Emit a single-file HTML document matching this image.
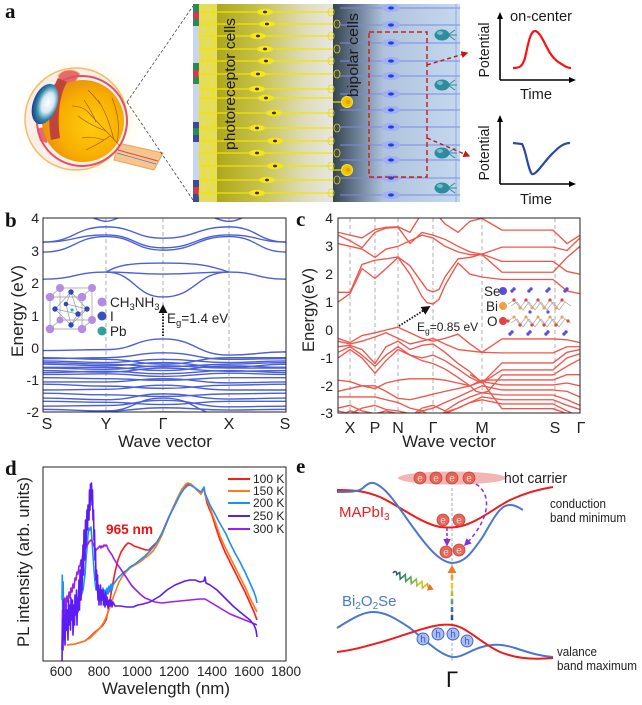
<!DOCTYPE html>
<html><head><meta charset="utf-8">
<style>
html,body{margin:0;padding:0;background:#fff;}
svg{display:block;}
text{font-family:"Liberation Sans",Arial,sans-serif;}
.lbl{font-family:"Liberation Serif","Times New Roman",serif;font-weight:bold;font-size:21px;fill:#111;}
.bb path{fill:none;stroke:#4b5fd9;stroke-width:1.4;vector-effect:non-scaling-stroke;}
.cc polyline{fill:none;stroke:#f0564c;stroke-width:1.35;stroke-linejoin:round;vector-effect:non-scaling-stroke;}
.pl polyline{fill:none;stroke-width:1.6;stroke-linejoin:round;}
</style></head>
<body>
<svg width="642" height="705" viewBox="0 0 642 705" xmlns="http://www.w3.org/2000/svg">
<defs>
<radialGradient id="glow" cx="0.5" cy="0.5" r="0.5"><stop offset="0.55" stop-color="#fff3cc"/><stop offset="1" stop-color="#ffffff" stop-opacity="0"/></radialGradient>
<radialGradient id="ball" cx="0.6" cy="0.55" r="0.6"><stop offset="0" stop-color="#ffcc10"/><stop offset="0.65" stop-color="#f8ae00"/><stop offset="1" stop-color="#e8900e"/></radialGradient>
<radialGradient id="lens" cx="0.6" cy="0.45" r="0.6"><stop offset="0" stop-color="#ffffff"/><stop offset="0.4" stop-color="#d8e8f4"/><stop offset="0.7" stop-color="#2e88a8"/><stop offset="1" stop-color="#1e3c8c"/></radialGradient>
<linearGradient id="yg" x1="0" x2="1"><stop offset="0" stop-color="#aea71c"/><stop offset="0.35" stop-color="#c6c048"/><stop offset="0.75" stop-color="#dedcb8"/><stop offset="1" stop-color="#e6e6e2"/></linearGradient>
<linearGradient id="bgr" x1="0" x2="1"><stop offset="0" stop-color="#36444f"/><stop offset="0.18" stop-color="#6a7c92"/><stop offset="0.4" stop-color="#afc4dc"/><stop offset="1" stop-color="#c4d8ee"/></linearGradient>
<linearGradient id="rb" gradientUnits="userSpaceOnUse" x1="452" y1="622" x2="452" y2="570"><stop offset="0" stop-color="#203c9c"/><stop offset="0.3" stop-color="#3a8a8a"/><stop offset="0.5" stop-color="#8ac040"/><stop offset="0.7" stop-color="#e8d020"/><stop offset="1" stop-color="#f07a20"/></linearGradient>
<linearGradient id="wv" gradientUnits="userSpaceOnUse" x1="0" y1="0" x2="46" y2="0"><stop offset="0" stop-color="#2a4a7a"/><stop offset="0.35" stop-color="#3aa060"/><stop offset="0.65" stop-color="#d0c820"/><stop offset="1" stop-color="#f07020"/></linearGradient>
<clipPath id="cb"><rect x="43" y="218" width="243" height="194"/></clipPath>
<clipPath id="cc"><rect x="338" y="218" width="242" height="195"/></clipPath>
<clipPath id="cd"><rect x="43" y="467" width="243" height="194"/></clipPath>
<marker id="ah" viewBox="0 0 10 10" refX="8" refY="5" markerWidth="5" markerHeight="5" orient="auto"><path d="M0,0 L10,5 L0,10 Z" fill="#111"/></marker>
<marker id="ahr" viewBox="0 0 10 10" refX="8" refY="5" markerWidth="5" markerHeight="5" orient="auto"><path d="M0,0 L10,5 L0,10 Z" fill="#c01818"/></marker>
<marker id="ahp" viewBox="0 0 10 10" refX="8" refY="5" markerWidth="5" markerHeight="5" orient="auto"><path d="M0,0 L10,5 L0,10 Z" fill="#8a2be2"/></marker>
</defs>

<!-- ================= PANEL A ================= -->
<text class="lbl" x="5" y="18">a</text>
<circle cx="80" cy="120" r="68" fill="url(#glow)"/>
<path d="M118,143 L163,153 L154,170 L114,160 Z" fill="#f6c48c" stroke="#e9a45a" stroke-width="1"/>
<path d="M118,150 L158,161" stroke="#c85050" stroke-width="1" fill="none"/>
<path d="M117,153 L156,164" stroke="#6070c0" stroke-width="0.7" fill="none"/>
<circle cx="76" cy="119" r="51" fill="#fbeee6" stroke="#f2bd6a" stroke-width="1.5"/>
<path d="M58,76 C62,69 74,68 80,74 L74,84 L62,84 Z" fill="#e86a6a" stroke="#f2bd6a" stroke-width="0.8"/>
<path d="M37,130 C40,126 46,127 49,131 L47,143 L40,141 Z" fill="#e86a6a"/>
<circle cx="82" cy="121" r="45" fill="none" stroke="#e0506a" stroke-width="2"/>
<circle cx="83" cy="121" r="41" fill="url(#ball)"/>
<path d="M58,78 C50,92 47,118 51,140 L60,138 C57,118 59,96 67,82 Z" fill="#c0443a"/>
<ellipse cx="45" cy="104" rx="12" ry="21" fill="url(#lens)" transform="rotate(20 45 104)"/>
<g stroke="#8b3a12" stroke-width="0.6" fill="none" opacity="0.85">
<path d="M120,146 C110,135 100,125 88,112"/>
<path d="M114,140 C110,125 106,112 98,100"/>
<path d="M106,131 C95,127 86,122 78,116"/>
<path d="M117,143 C120,128 118,112 112,98"/>
<path d="M96,122 C92,112 88,106 84,100"/>
<path d="M110,136 C102,142 94,146 86,150"/>
<path d="M88,112 C84,108 78,106 72,106"/>
<path d="M100,104 C96,98 92,94 88,90"/>
<path d="M104,140 C96,138 90,136 82,138"/>
</g>
<line x1="127" y1="102" x2="193" y2="6" stroke="#444" stroke-width="0.8" stroke-dasharray="3,2"/>
<line x1="127" y1="102" x2="193" y2="200" stroke="#444" stroke-width="0.8" stroke-dasharray="3,2"/>

<!-- retina strip -->
<rect x="193" y="4" width="6" height="198" fill="#c8d4f0"/>
<rect x="193" y="4" width="6" height="8" fill="#2a8a5a"/><rect x="193" y="12" width="6" height="7" fill="#d03a50"/><rect x="193" y="19" width="6" height="7" fill="#2a8a5a"/>
<rect x="193" y="63" width="6" height="7" fill="#2a8a5a"/><rect x="193" y="70" width="6" height="7" fill="#d03a50"/><rect x="193" y="77" width="6" height="7" fill="#2a8a5a"/>
<rect x="193" y="122" width="6" height="6" fill="#3a4aa0"/><rect x="193" y="128" width="6" height="7" fill="#2a8a5a"/><rect x="193" y="135" width="6" height="7" fill="#3a4aa0"/>
<rect x="193" y="180" width="6" height="7" fill="#3a4aa0"/><rect x="193" y="187" width="6" height="7" fill="#d03a50"/><rect x="193" y="194" width="6" height="8" fill="#3a4aa0"/>
<rect x="199" y="4" width="18" height="198" fill="#e4dc6a"/>
<g stroke="#f2e400" stroke-width="0.8" fill="none">
<path d="M201,4 Q205,14 201,24 T201,44 T201,64 T201,84 T201,104 T201,124 T201,144 T201,164 T201,184 T201,202"/>
<path d="M206,4 Q202,12 206,20 T206,36 T206,52 T206,68 T206,84 T206,100 T206,116 T206,132 T206,148 T206,164 T206,180 T206,196"/>
<path d="M211,4 Q215,11 211,18 T211,32 T211,46 T211,60 T211,74 T211,88 T211,102 T211,116 T211,130 T211,144 T211,158 T211,172 T211,186 T211,200"/>
<path d="M215,4 Q212,14 215,24 T215,44 T215,64 T215,84 T215,104 T215,124 T215,144 T215,164 T215,184 T215,202"/>
</g>
<rect x="217" y="4" width="116" height="198" fill="url(#yg)"/>
<rect x="333" y="4" width="127" height="198" fill="url(#bgr)"/>
<g stroke="#f2e400" stroke-width="1.3">
<line x1="199" y1="12" x2="333" y2="12"/><line x1="199" y1="24" x2="333" y2="24"/><line x1="199" y1="36" x2="333" y2="36"/><line x1="199" y1="49" x2="333" y2="49"/><line x1="199" y1="61" x2="333" y2="61"/><line x1="199" y1="74" x2="333" y2="74"/><line x1="199" y1="89" x2="333" y2="89"/><line x1="199" y1="98" x2="333" y2="98"/><line x1="199" y1="113" x2="333" y2="113"/><line x1="199" y1="128" x2="333" y2="128"/><line x1="199" y1="141" x2="333" y2="141"/><line x1="199" y1="153" x2="333" y2="153"/><line x1="199" y1="166" x2="333" y2="166"/><line x1="199" y1="180" x2="333" y2="180"/><line x1="199" y1="193" x2="333" y2="193"/>
</g>
<g fill="#f4e61a">
<ellipse cx="265" cy="12" rx="8" ry="3.2"/><ellipse cx="267" cy="24" rx="8" ry="3.2"/><ellipse cx="258" cy="36" rx="8" ry="3.2"/><ellipse cx="265" cy="49" rx="8" ry="3.2"/><ellipse cx="266" cy="61" rx="8" ry="3.2"/><ellipse cx="258" cy="74" rx="8" ry="3.2"/><ellipse cx="257" cy="89" rx="8" ry="3.2"/><ellipse cx="266" cy="98" rx="8" ry="3.2"/><ellipse cx="274" cy="113" rx="8" ry="3.2"/><ellipse cx="257" cy="128" rx="8" ry="3.2"/><ellipse cx="275" cy="141" rx="8" ry="3.2"/><ellipse cx="257" cy="153" rx="8" ry="3.2"/><ellipse cx="275" cy="166" rx="8" ry="3.2"/><ellipse cx="267" cy="180" rx="8" ry="3.2"/><ellipse cx="257" cy="193" rx="8" ry="3.2"/>
</g>
<g fill="#3a3000">
<ellipse cx="265" cy="12" rx="2" ry="1.4"/><ellipse cx="267" cy="24" rx="2" ry="1.4"/><ellipse cx="258" cy="36" rx="2" ry="1.4"/><ellipse cx="265" cy="49" rx="2" ry="1.4"/><ellipse cx="266" cy="61" rx="2" ry="1.4"/><ellipse cx="258" cy="74" rx="2" ry="1.4"/><ellipse cx="257" cy="89" rx="2" ry="1.4"/><ellipse cx="266" cy="98" rx="2" ry="1.4"/><ellipse cx="274" cy="113" rx="2" ry="1.4"/><ellipse cx="257" cy="128" rx="2" ry="1.4"/><ellipse cx="275" cy="141" rx="2" ry="1.4"/><ellipse cx="257" cy="153" rx="2" ry="1.4"/><ellipse cx="275" cy="166" rx="2" ry="1.4"/><ellipse cx="267" cy="180" rx="2" ry="1.4"/><ellipse cx="257" cy="193" rx="2" ry="1.4"/>
</g>
<g stroke="#e8d800" stroke-width="0.8" fill="none">
<ellipse cx="331" cy="12" rx="3" ry="4"/><ellipse cx="331" cy="36" rx="3" ry="4"/><ellipse cx="331" cy="61" rx="3" ry="4"/><ellipse cx="331" cy="89" rx="3" ry="4"/><ellipse cx="331" cy="113" rx="3" ry="4"/><ellipse cx="331" cy="141" rx="3" ry="4"/><ellipse cx="331" cy="166" rx="3" ry="4"/><ellipse cx="331" cy="193" rx="3" ry="4"/>
<ellipse cx="337" cy="24" rx="3" ry="4"/><ellipse cx="337" cy="49" rx="3" ry="4"/><ellipse cx="337" cy="74" rx="3" ry="4"/><ellipse cx="337" cy="128" rx="3" ry="4"/><ellipse cx="337" cy="153" rx="3" ry="4"/><ellipse cx="337" cy="180" rx="3" ry="4"/>
</g>
<g stroke="#7c8ae6" stroke-width="1">
<line x1="340" y1="8" x2="460" y2="8"/><line x1="340" y1="25" x2="460" y2="25"/><line x1="340" y1="43" x2="460" y2="43"/><line x1="340" y1="61" x2="460" y2="61"/><line x1="340" y1="76" x2="460" y2="76"/><line x1="340" y1="94" x2="460" y2="94"/><line x1="340" y1="110" x2="460" y2="110"/><line x1="340" y1="127" x2="460" y2="127"/><line x1="340" y1="145" x2="460" y2="145"/><line x1="340" y1="160" x2="460" y2="160"/><line x1="340" y1="178" x2="460" y2="178"/><line x1="340" y1="195" x2="460" y2="195"/>
<line x1="456" y1="4" x2="456" y2="202" stroke="#8aa0e0" stroke-width="0.8"/>
</g>
<g fill="#9fb0f4">
<ellipse cx="391" cy="8" rx="9" ry="4"/><ellipse cx="391" cy="25" rx="9" ry="4"/><ellipse cx="391" cy="43" rx="9" ry="4"/><ellipse cx="391" cy="61" rx="9" ry="4"/><ellipse cx="391" cy="76" rx="9" ry="4"/><ellipse cx="391" cy="94" rx="9" ry="4"/><ellipse cx="391" cy="110" rx="9" ry="4"/><ellipse cx="391" cy="127" rx="9" ry="4"/><ellipse cx="391" cy="145" rx="9" ry="4"/><ellipse cx="391" cy="160" rx="9" ry="4"/><ellipse cx="391" cy="178" rx="9" ry="4"/><ellipse cx="391" cy="195" rx="9" ry="4"/>
</g>
<g fill="#1f3fe0">
<ellipse cx="391" cy="8" rx="3" ry="1.6"/><ellipse cx="391" cy="25" rx="3" ry="1.6"/><ellipse cx="391" cy="43" rx="3" ry="1.6"/><ellipse cx="391" cy="61" rx="3" ry="1.6"/><ellipse cx="391" cy="76" rx="3" ry="1.6"/><ellipse cx="391" cy="94" rx="3" ry="1.6"/><ellipse cx="391" cy="110" rx="3" ry="1.6"/><ellipse cx="391" cy="127" rx="3" ry="1.6"/><ellipse cx="391" cy="145" rx="3" ry="1.6"/><ellipse cx="391" cy="160" rx="3" ry="1.6"/><ellipse cx="391" cy="178" rx="3" ry="1.6"/><ellipse cx="391" cy="195" rx="3" ry="1.6"/>
</g>
<circle cx="347" cy="102" r="5.5" fill="#f2c400" stroke="#eeea30" stroke-width="1"/><circle cx="348" cy="102" r="2.2" fill="#f59a00"/>
<circle cx="347" cy="170" r="5.5" fill="#f2c400" stroke="#eeea30" stroke-width="1"/><circle cx="348" cy="170" r="2.2" fill="#f59a00"/>
<line x1="341" y1="102" x2="333" y2="102" stroke="#f2e400" stroke-width="1.2"/><line x1="341" y1="170" x2="333" y2="170" stroke="#f2e400" stroke-width="1.2"/>
<g stroke="#2e8c9c" stroke-width="1" fill="none">
<path d="M448,35 L455,30 M448,35 L455,40 M448,35 L457,35"/>
<path d="M448,85 L455,80 M448,85 L455,90 M448,85 L457,85"/>
<path d="M448,153 L455,148 M448,153 L455,158 M448,153 L457,153"/>
<path d="M448,188 L455,183 M448,188 L455,193 M448,188 L457,188"/>
</g>
<g fill="#2e8c9c">
<ellipse cx="442" cy="35" rx="7.5" ry="5.5"/><ellipse cx="442" cy="85" rx="7.5" ry="5.5"/><ellipse cx="442" cy="153" rx="7.5" ry="5.5"/><ellipse cx="442" cy="188" rx="7.5" ry="5.5"/>
</g>
<g fill="#70c0cc">
<ellipse cx="440" cy="33" rx="3" ry="2"/><ellipse cx="440" cy="83" rx="3" ry="2"/><ellipse cx="440" cy="151" rx="3" ry="2"/><ellipse cx="440" cy="186" rx="3" ry="2"/>
</g>
<rect x="369" y="32" width="58" height="145" fill="none" stroke="#d02020" stroke-width="1.5" stroke-dasharray="5,3"/>
<line x1="427" y1="65" x2="467" y2="53" stroke="#c01818" stroke-width="1.4" stroke-dasharray="4,3" marker-end="url(#ahr)"/>
<line x1="427" y1="138" x2="469" y2="156" stroke="#c01818" stroke-width="1.4" stroke-dasharray="4,3" marker-end="url(#ahr)"/>
<text x="235" y="84" font-size="15" fill="#1a1a1a" text-anchor="middle" transform="rotate(-90 235 84)" textLength="132" lengthAdjust="spacingAndGlyphs">photoreceptor cells</text>
<text x="358" y="55" font-size="15" fill="#1a1a1a" text-anchor="middle" transform="rotate(-90 358 55)" textLength="84" lengthAdjust="spacingAndGlyphs">bipolar cells</text>

<g stroke="#000" stroke-width="1.6" fill="none">
<path d="M500,80 L500,17 M500,80 L571,80"/>
<path d="M500,184 L500,120 M500,184 L571,184"/>
</g>
<g fill="#000">
<path d="M500,12 L497,19 L503,19 Z"/><path d="M576,80 L569,77 L569,83 Z"/>
<path d="M500,115 L497,122 L503,122 Z"/><path d="M576,184 L569,181 L569,187 Z"/>
</g>
<path d="M513,68 C518,68 522,68 525,58 C528,45 530,31 535,31 C540,31 545,45 550,53 C555,61 560,63 563,65 C566,67 568,68 571,68" fill="none" stroke="#ff1010" stroke-width="2.2"/>
<path d="M513,143 L522,144 C526,150 528,170 532,174 C536,176 545,160 553,153 C558,148 563,143 570,143" fill="none" stroke="#2a4a9a" stroke-width="2.2"/>
<text x="541" y="21" font-size="15" fill="#1a1a1a" text-anchor="middle" textLength="62" lengthAdjust="spacingAndGlyphs">on-center</text>
<text x="489" y="50" font-size="15" fill="#1a1a1a" text-anchor="middle" transform="rotate(-90 489 50)" textLength="55" lengthAdjust="spacingAndGlyphs">Potential</text>
<text x="536" y="99" font-size="15" fill="#1a1a1a" text-anchor="middle" textLength="32" lengthAdjust="spacingAndGlyphs">Time</text>
<text x="489" y="153" font-size="15" fill="#1a1a1a" text-anchor="middle" transform="rotate(-90 489 153)" textLength="55" lengthAdjust="spacingAndGlyphs">Potential</text>
<text x="536" y="204" font-size="15" fill="#1a1a1a" text-anchor="middle" textLength="32" lengthAdjust="spacingAndGlyphs">Time</text>

<!-- ================= PANEL B ================= -->
<text class="lbl" x="5" y="227">b</text>
<g stroke="#999" stroke-width="0.8" stroke-dasharray="4,3">
<line x1="106" y1="218" x2="106" y2="412"/><line x1="163" y1="218" x2="163" y2="412"/><line x1="229" y1="218" x2="229" y2="412"/>
</g>
<g clip-path="url(#cb)">
<g class="bb" transform="translate(0,348) scale(1,-32.3)">
<path d="M43 2.13 C74.5 2.13 74.5 2.35 106 2.35 C134.5 2.35 134.5 1.58 163 1.58 C196 1.58 196 2.35 229 2.35 C257.5 2.35 257.5 2.13 286 2.13"/>
<path d="M106 2.35 C118 2.55 125 2.63 163 2.63 C201 2.63 210 2.55 229 2.35"/>
<path d="M106 2.35 C134.5 2.35 134.5 2.29 163 2.29 C196 2.29 196 2.35 229 2.35"/>
<path d="M43 2.97 C74.5 2.97 74.5 3.45 106 3.45 C134.5 3.45 134.5 3.03 163 3.03 C196 3.03 196 3.45 229 3.45 C257.5 3.45 257.5 2.97 286 2.97"/>
<path d="M43 3.28 C74.5 3.28 74.5 3.5 106 3.5 C134.5 3.5 134.5 3.1 163 3.1 C196 3.1 196 3.5 229 3.5 C257.5 3.5 257.5 3.28 286 3.28"/>
<path d="M43 3.28 C74.5 3.28 74.5 3.75 106 3.75 C134.5 3.75 134.5 3.4 163 3.4 C196 3.4 196 3.75 229 3.75 C257.5 3.75 257.5 3.28 286 3.28"/>
<path d="M43 4.4 C74.5 4.4 95 3.92 106 3.92 C117 3.92 134.5 4.4 163 4.4 C196 4.4 215 3.92 229 3.92 C243 3.92 257.5 4.4 286 4.4"/>
<path d="M43 -0.08 C74.5 -0.08 74.5 -0.05 106 -0.05 C134.5 -0.05 134.5 0.28 163 0.28 C196 0.28 196 -0.22 229 -0.22 C257.5 -0.22 257.5 -0.12 286 -0.12"/>
<path d="M43 -0.3 C74.5 -0.3 74.5 -0.35 106 -0.35 C134.5 -0.35 134.5 -0.5 163 -0.5 C196 -0.5 196 -0.3 229 -0.3 C257.5 -0.3 257.5 -0.3 286 -0.3"/>
<path d="M43 -0.33 C74.5 -0.33 74.5 -0.3 106 -0.3 C134.5 -0.3 134.5 -0.15 163 -0.15 C196 -0.15 196 -0.35 229 -0.35 C257.5 -0.35 257.5 -0.33 286 -0.33"/>
<path d="M43 -0.4 C74.5 -0.4 74.5 -0.45 106 -0.45 C134.5 -0.45 134.5 -0.35 163 -0.35 C196 -0.35 196 -0.45 229 -0.45 C257.5 -0.45 257.5 -0.4 286 -0.4"/>
<path d="M43 -0.45 C74.5 -0.45 74.5 -0.5 106 -0.5 C134.5 -0.5 134.5 -0.58 163 -0.58 C196 -0.58 196 -0.5 229 -0.5 C257.5 -0.5 257.5 -0.45 286 -0.45"/>
<path d="M43 -0.5 C74.5 -0.5 74.5 -0.55 106 -0.55 C134.5 -0.55 134.5 -0.45 163 -0.45 C196 -0.45 196 -0.6 229 -0.6 C257.5 -0.6 257.5 -0.5 286 -0.5"/>
<path d="M43 -0.6 C74.5 -0.6 74.5 -0.6 106 -0.6 C134.5 -0.6 134.5 -0.7 163 -0.7 C196 -0.7 196 -0.55 229 -0.55 C257.5 -0.55 257.5 -0.6 286 -0.6"/>
<path d="M43 -0.62 C74.5 -0.62 74.5 -0.66 106 -0.66 C134.5 -0.66 134.5 -0.55 163 -0.55 C196 -0.55 196 -0.62 229 -0.62 C257.5 -0.62 257.5 -0.62 286 -0.62"/>
<path d="M43 -0.7 C74.5 -0.7 74.5 -0.75 106 -0.75 C134.5 -0.75 134.5 -0.62 163 -0.62 C196 -0.62 196 -0.72 229 -0.72 C257.5 -0.72 257.5 -0.7 286 -0.7"/>
<path d="M43 -0.76 C74.5 -0.76 74.5 -0.72 106 -0.72 C134.5 -0.72 134.5 -0.8 163 -0.8 C196 -0.8 196 -0.7 229 -0.7 C257.5 -0.7 257.5 -0.76 286 -0.76"/>
<path d="M43 -0.82 C74.5 -0.82 74.5 -0.8 106 -0.8 C134.5 -0.8 134.5 -0.88 163 -0.88 C196 -0.88 196 -0.78 229 -0.78 C257.5 -0.78 257.5 -0.82 286 -0.82"/>
<path d="M43 -0.92 C74.5 -0.92 74.5 -0.95 106 -0.95 C134.5 -0.95 134.5 -1.0 163 -1.0 C196 -1.0 196 -0.92 229 -0.92 C257.5 -0.92 257.5 -0.92 286 -0.92"/>
<path d="M43 -1.05 C74.5 -1.05 74.5 -1.05 106 -1.05 C134.5 -1.05 134.5 -0.95 163 -0.95 C196 -0.95 196 -1.08 229 -1.08 C257.5 -1.08 257.5 -1.05 286 -1.05"/>
<path d="M43 -1.12 C74.5 -1.12 74.5 -1.18 106 -1.18 C134.5 -1.18 134.5 -1.25 163 -1.25 C196 -1.25 196 -1.15 229 -1.15 C257.5 -1.15 257.5 -1.12 286 -1.12"/>
<path d="M43 -1.3 C74.5 -1.3 74.5 -1.28 106 -1.28 C134.5 -1.28 134.5 -1.15 163 -1.15 C196 -1.15 196 -1.3 229 -1.3 C257.5 -1.3 257.5 -1.3 286 -1.3"/>
<path d="M43 -1.4 C74.5 -1.4 74.5 -1.45 106 -1.45 C134.5 -1.45 134.5 -1.5 163 -1.5 C196 -1.5 196 -1.42 229 -1.42 C257.5 -1.42 257.5 -1.4 286 -1.4"/>
<path d="M43 -1.55 C74.5 -1.55 74.5 -1.6 106 -1.6 C134.5 -1.6 134.5 -1.42 163 -1.42 C196 -1.42 196 -1.58 229 -1.58 C257.5 -1.58 257.5 -1.55 286 -1.55"/>
<path d="M43 -1.65 C74.5 -1.65 74.5 -1.68 106 -1.68 C134.5 -1.68 134.5 -1.75 163 -1.75 C196 -1.75 196 -1.65 229 -1.65 C257.5 -1.65 257.5 -1.65 286 -1.65"/>
<path d="M43 -1.8 C74.5 -1.8 74.5 -1.78 106 -1.78 C134.5 -1.78 134.5 -1.62 163 -1.62 C196 -1.62 196 -1.82 229 -1.82 C257.5 -1.82 257.5 -1.8 286 -1.8"/>
<path d="M43 -1.9 C74.5 -1.9 74.5 -1.95 106 -1.95 C134.5 -1.95 134.5 -1.85 163 -1.85 C196 -1.85 196 -1.92 229 -1.92 C257.5 -1.92 257.5 -1.9 286 -1.9"/>
<path d="M43 -2.0 C74.5 -2.0 74.5 -2.05 106 -2.05 C134.5 -2.05 134.5 -1.98 163 -1.98 C196 -1.98 196 -2.0 229 -2.0 C257.5 -2.0 257.5 -2.0 286 -2.0"/>
<path d="M43 -2.2 C74.5 -2.2 74.5 -1.95 106 -1.95 C134.5 -1.95 134.5 -1.55 163 -1.55 C196 -1.55 196 -2.1 229 -2.1 C257.5 -2.1 257.5 -2.2 286 -2.2"/>
</g>
</g>
<rect x="43" y="218" width="243" height="194" fill="none" stroke="#222" stroke-width="1"/>
<g stroke="#999" stroke-width="0.7" fill="none">
<path d="M50,297 L82,297 L82,329 L50,329 Z"/>
<path d="M60,288 L92,288 L92,320 L60,320 Z"/>
<path d="M50,297 L60,288 M82,297 L92,288 M82,329 L92,320 M50,329 L60,320"/>
<path d="M71,292 L55,309 L71,325 L87,309 Z M71,292 L66,304 L71,325 M71,292 L78,314 L71,325 M55,309 L78,314 L87,309 M66,304 L87,309"/>
</g>
<g fill="#b48ce0">
<circle cx="60" cy="288" r="4"/><circle cx="92" cy="288" r="4"/><circle cx="92" cy="320" r="4"/><circle cx="60" cy="320" r="3.5"/>
<circle cx="50" cy="297" r="4.3"/><circle cx="82" cy="297" r="4.3"/><circle cx="82" cy="329" r="4.3"/><circle cx="50" cy="329" r="4.3"/>
</g>
<g fill="#2e46c0">
<circle cx="71" cy="292" r="2.7"/><circle cx="71" cy="325" r="2.7"/><circle cx="55" cy="309" r="2.7"/><circle cx="87" cy="309" r="2.7"/><circle cx="66" cy="304" r="2.3"/><circle cx="78" cy="314" r="2.7"/>
</g>
<circle cx="72" cy="310" r="1.6" fill="#30b0b0"/>
<circle cx="102" cy="302" r="4.5" fill="#b48ce0"/>
<circle cx="102" cy="316" r="4.5" fill="#3a50c0"/>
<circle cx="102" cy="331" r="4.5" fill="#30a0a0"/>
<text x="110" y="307" font-size="13.5" fill="#222">CH<tspan dy="3" font-size="9.5">3</tspan><tspan dy="-3">NH</tspan><tspan dy="3" font-size="9.5">3</tspan></text>
<text x="110" y="321" font-size="13.5" fill="#222">I</text>
<text x="110" y="336" font-size="13.5" fill="#222">Pb</text>
<line x1="163" y1="336" x2="163" y2="306" stroke="#111" stroke-width="1.8" stroke-dasharray="1.5,1.5" marker-end="url(#ah)"/>
<text x="167" y="323" font-size="13.5" fill="#222">E<tspan dy="3" font-size="9.5">g</tspan><tspan dy="-3">=1.4 eV</tspan></text>
<g font-size="14" fill="#222" text-anchor="end">
<text x="39" y="223">4</text><text x="39" y="256">3</text><text x="39" y="288">2</text><text x="39" y="321">1</text><text x="39" y="353">0</text><text x="39" y="385">-1</text><text x="39" y="417">-2</text>
</g>
<g font-size="16" fill="#222" text-anchor="middle">
<text x="47" y="429">S</text><text x="106" y="429">Y</text><text x="163" y="429">Γ</text><text x="229" y="429">X</text><text x="285" y="429">S</text>
</g>
<text x="165" y="447" font-size="17" fill="#222" text-anchor="middle">Wave vector</text>
<text x="23" y="311" font-size="17" fill="#222" text-anchor="middle" transform="rotate(-90 23 311)" textLength="92" lengthAdjust="spacingAndGlyphs">Energy (eV)</text>

<!-- ================= PANEL C ================= -->
<text class="lbl" x="296" y="226">c</text>
<g stroke="#999" stroke-width="0.8" stroke-dasharray="4,3">
<line x1="350" y1="218" x2="350" y2="413"/><line x1="375" y1="218" x2="375" y2="413"/><line x1="398" y1="218" x2="398" y2="413"/><line x1="433" y1="218" x2="433" y2="413"/><line x1="482" y1="218" x2="482" y2="413"/><line x1="555" y1="218" x2="555" y2="413"/>
</g>
<g clip-path="url(#cc)">
<g class="cc" transform="translate(0,330) scale(1,-27.9)">
<polyline points="338,1 350,1.3 362,2.2 375,1.85 386,2.2 398,2.6 410,2 422,1.2 427,0.98 433,0.93 439,1.1 445,1.6 458,2.4 470,2 482,1.9 502,1.81 553,1.81 567,1.4 580,1.3"/>
<polyline points="338,1.35 350,1.35 362,2.35 375,2.5 386,2.55 398,2.62 410,2.3 422,1.7 427,1.45 433,1.36 439,1.45 445,1.9 458,2.55 470,2.6 482,2.72 502,2.46 553,2.46 567,2.1 580,2"/>
<polyline points="338,3.1 350,3 362,2.9 375,2.6 386,2.9 398,3 410,3.2 422,3.4 433,3.3 445,3 458,2.8 470,2.7 482,2.7 502,2.07 553,2.07 567,2.6 580,3"/>
<polyline points="338,3.4 350,3.2 362,2.95 375,3.5 386,3.65 398,3.68 410,3.1 422,3.5 433,3.4 445,3.25 458,3 470,2.8 482,2.72 502,2.97 553,2.97 567,2.85 580,3.3"/>
<polyline points="338,3.5 350,3.4 362,3.3 375,3.6 386,3.68 398,3.7 410,3.5 422,4.2 433,4.3 445,3.8 458,3.5 470,3.9 482,4 502,3.58 553,3.58 567,3.1 580,3.4"/>
<polyline points="338,-0.3 350,-0.45 362,-0.2 375,-0.1 386,0 398,0.1 410,-0.1 422,-0.3 433,-0.4 445,-0.3 458,-0.15 470,-0.5 482,-0.8 502,-0.32 553,-0.32 567,-0.35 580,-0.45"/>
<polyline points="338,-0.4 350,-0.5 362,-0.4 375,-0.25 386,-0.1 398,-0.3 410,-0.5 422,-0.4 433,-0.3 445,-0.5 458,-0.7 470,-0.75 482,-0.8 502,-0.82 553,-0.82 567,-0.6 580,-0.6"/>
<polyline points="338,-0.6 350,-0.55 362,-0.7 375,-1.2 386,-0.6 398,-0.4 410,-0.7 422,-0.55 433,-0.5 445,-0.8 458,-1.2 470,-1.5 482,-1.9 502,-1.18 553,-1.18 567,-0.8 580,-0.7"/>
<polyline points="338,-0.8 350,-0.6 362,-0.9 375,-1.3 386,-0.9 398,-0.6 410,-0.9 422,-1 433,-0.9 445,-1.1 458,-1.4 470,-1.7 482,-1.9 502,-1.43 553,-1.43 567,-1 580,-0.85"/>
<polyline points="338,-1 350,-0.7 362,-1 375,-1.55 386,-1.1 398,-0.7 410,-0.9 422,-1.1 433,-1.2 445,-1.4 458,-1.7 470,-2 476,-2.2 482,-2.25 488,-2.2 502,-1.61 553,-1.61 567,-1.3 580,-1.05"/>
<polyline points="338,-1.8 350,-1.85 362,-2 375,-2.1 386,-1.9 398,-1.8 410,-1.75 422,-1.75 433,-1.75 445,-1.8 458,-1.9 470,-2 482,-1.8 502,-1.79 553,-1.79 567,-1.6 580,-1.6"/>
<polyline points="338,-2.2 350,-2.1 362,-2 375,-2 386,-2.2 398,-2.45 410,-2.5 422,-2.4 433,-2.3 445,-2.2 458,-2.1 470,-2 482,-1.85 502,-1.97 553,-1.97 567,-1.9 580,-2"/>
<polyline points="338,-2.4 350,-2.4 362,-2.4 375,-2.4 386,-2.5 398,-2.6 410,-2.8 422,-2.9 433,-2.8 445,-2.6 458,-2.4 470,-2.2 482,-2 502,-2.15 553,-2.15 567,-2.2 580,-2.4"/>
<polyline points="338,-2.8 350,-2.7 362,-2.9 375,-3 386,-2.9 398,-3 410,-3.1 422,-2.8 433,-2.7 445,-2.9 458,-2.6 470,-2.4 482,-2.25 502,-2.33 553,-2.33 567,-2.5 580,-2.7"/>
<polyline points="338,-2.9 350,-3 362,-2.8 375,-2.7 386,-2.85 398,-2.9 410,-3 422,-3 433,-3 445,-3 458,-2.8 470,-2.6 482,-2.4 502,-2.5 553,-2.5 567,-2.7 580,-2.85"/>
<polyline points="338,-3.1 350,-2.9 362,-3 375,-3.1 386,-3 398,-3.1 410,-3.1 422,-2.9 433,-3.1 445,-2.95 458,-2.8 470,-2.6 482,-2.5 502,-2.65 553,-2.65 567,-2.9 580,-3.1"/>
<polyline points="470,-1.6 482,-1.85 502,-2.82 553,-2.82 567,-3 580,-3.1"/>
</g>
</g>
<rect x="338" y="218" width="242" height="195" fill="none" stroke="#222" stroke-width="1"/>
<text x="484" y="296" font-size="13.5" fill="#222">Se</text>
<text x="486" y="311" font-size="13.5" fill="#222">Bi</text>
<text x="487" y="326" font-size="13.5" fill="#222">O</text>
<circle cx="503" cy="291" r="4" fill="#5a4ce0"/>
<circle cx="503" cy="306" r="4" fill="#f0a040"/>
<circle cx="503" cy="321" r="4" fill="#e04444"/>
<g stroke="#a8a8a8" stroke-width="0.7" fill="none">
<polyline points="508,304 514,300 520,308 526,300 532,308 538,300 544,308 550,300 556,308 562,300 568,304"/>
<polyline points="511,306 517,302 523,310 529,302 535,310 541,302 547,310 553,302 559,310 565,302 571,306"/>
<polyline points="508,321 514,317 520,325 526,317 532,325 538,317 544,325 550,317 556,325 562,317 568,321"/>
<polyline points="511,323 517,319 523,327 529,319 535,327 541,319 547,327 553,319 559,327 565,319 571,323"/>
</g>
<g fill="#e04444">
<circle cx="514" cy="300" r="1.6"/><circle cx="526" cy="300" r="1.6"/><circle cx="538" cy="300" r="1.6"/><circle cx="550" cy="300" r="1.6"/><circle cx="562" cy="300" r="1.6"/>
<circle cx="508" cy="321" r="1.6"/><circle cx="520" cy="325" r="1.6"/><circle cx="532" cy="325" r="1.6"/><circle cx="544" cy="325" r="1.6"/><circle cx="556" cy="325" r="1.6"/><circle cx="568" cy="321" r="1.6"/>
</g>
<g fill="#f0a040">
<circle cx="520" cy="308" r="1.5"/><circle cx="532" cy="308" r="1.5"/><circle cx="544" cy="308" r="1.5"/><circle cx="556" cy="308" r="1.5"/>
<circle cx="514" cy="317" r="1.5"/><circle cx="526" cy="317" r="1.5"/><circle cx="538" cy="317" r="1.5"/><circle cx="550" cy="317" r="1.5"/><circle cx="562" cy="317" r="1.5"/>
</g>
<g fill="#5a4ce0">
<circle cx="512" cy="291" r="1.7"/><circle cx="514" cy="289" r="1.7"/><circle cx="529" cy="291" r="1.7"/><circle cx="531" cy="289" r="1.7"/><circle cx="547" cy="291" r="1.7"/><circle cx="549" cy="289" r="1.7"/><circle cx="565" cy="291" r="1.7"/><circle cx="567" cy="289" r="1.7"/>
<circle cx="530" cy="312" r="1.6"/><circle cx="548" cy="312" r="1.6"/>
<circle cx="510" cy="334" r="1.7"/><circle cx="512" cy="332" r="1.7"/><circle cx="528" cy="334" r="1.7"/><circle cx="530" cy="332" r="1.7"/><circle cx="546" cy="334" r="1.7"/><circle cx="548" cy="332" r="1.7"/><circle cx="564" cy="334" r="1.7"/><circle cx="566" cy="332" r="1.7"/>
</g>
<line x1="399" y1="326" x2="429" y2="307" stroke="#111" stroke-width="1.8" stroke-dasharray="1.5,1.5" marker-end="url(#ah)"/>
<text x="417" y="331" font-size="12" fill="#222">E<tspan dy="3" font-size="8.5">g</tspan><tspan dy="-3">=0.85 eV</tspan></text>
<g font-size="14" fill="#222" text-anchor="end">
<text x="333" y="223">4</text><text x="333" y="251">3</text><text x="333" y="279">2</text><text x="333" y="307">1</text><text x="333" y="335">0</text><text x="333" y="363">-1</text><text x="333" y="391">-2</text><text x="333" y="418">-3</text>
</g>
<g font-size="16" fill="#222" text-anchor="middle">
<text x="350" y="433">X</text><text x="375" y="433">P</text><text x="398" y="433">N</text><text x="433" y="433">Γ</text><text x="482" y="433">M</text><text x="555" y="433">S</text><text x="581" y="433">Γ</text>
</g>
<text x="449" y="447" font-size="17" fill="#222" text-anchor="middle">Wave vector</text>
<text x="314" y="310" font-size="17" fill="#222" text-anchor="middle" transform="rotate(-90 314 310)" textLength="84" lengthAdjust="spacingAndGlyphs">Energy(eV)</text>

<!-- ================= PANEL D ================= -->
<text class="lbl" x="5" y="475">d</text>
<g clip-path="url(#cd)" class="pl">
<polyline stroke="#ff1a1a" points="67,645 75,644 85,641 90,637 95,632 100,628 103,625 106,620 108,612 110,600 112,588 115,572 118,560 121,552 125,546 128,543 131,544 134,546 137,547 140,548 143,549 146,550 149,550 151,548 153,546 157,542 162,533 167,521 172,510 177,499 182,489 186,485 188,484 191,485 195,488 199,492 201,494 203,490 204,489 205,494 207,503 209,508 212,515 216,528 220,540 225,552 230,562 235,572 240,582 245,592 250,603 254,612 257,620"/>
<polyline stroke="#ff7a1a" points="67,645 75,644 85,641 90,638 95,633 100,628 104,622 107,615 110,607 113,598 116,590 119,582 122,577 126,572 130,568 135,565 140,562 145,558 150,554 153,551 157,545 162,535 167,522 172,510 177,499 182,489 186,484 188,483 191,484 195,488 199,492 201,494 203,489 204,488 205,495 207,500 209,505 212,513 216,524 220,536 225,547 230,557 235,567 240,577 245,587 250,598 254,606 257,612"/>
<polyline stroke="#1e8ff5" points="62,600 62.3,575 62.7,615 63.2,582 63.6,620 64,598 64.5,625 65,610 66,630 67,618 70,615 75,610 80,600 83,590 85,575 86,560 87,548 88,535 89,528 90,530 91,527 92,540 93,555 94,570 95,582 96,590 97,585 98,597 99,592 100,600 101,590 102,598 103,588 104,596 105,590 106,597 107,588 108,594 109,586 110,592 111,584 112,590 113,585 115,582 118,578 121,575 124,572 127,570 130,567 135,564 140,560 145,556 150,551 155,545 160,537 165,527 170,515 175,505 180,495 184,489 187,486 190,485 194,487 198,490 201,492 203,489 204,487 205,493 207,498 210,505 214,512 218,520 222,527 226,534 230,543 235,553 240,562 245,572 250,583 254,592 256,598 257,603"/>
<polyline stroke="#a21cf0" points="62,650 62.5,610 63,630 63.5,600 64,615 65,598 66,606 67,596 68,602 69,592 70,598 71,588 72,592 73,584 74,588 75,578 76,580 77,572 78,574 79,566 80,566 81,560 82,560 83,553 84,552 85,548 86,548 87,545 88,544 89,542 90,541 91,540 92,541 93,543 94,546 95,548 96,550 97,549 98,548 99,547 100,546 101,548 102,546 103,547 104,545 105,546 106,545 107,546 108,549 110,552 112,555 114,559 117,564 120,568 124,574 128,580 132,586 136,590 140,594 145,598 150,600 155,602 162,603 170,602 180,601 190,600 200,599 205,599 210,602 215,605 220,608 225,611 230,614 235,616 240,618 245,620 250,622 255,624 257,625"/>
<polyline stroke="#5b1cf5" stroke-width="1.8" points="62,662 62.5,620 63,650 63.5,600 64,640 64.5,615 65,645 66,605 66.5,630 67,610 68,640 68.5,600 69,625 70,605 70.5,630 71,598 72,620 72.5,600 73,635 74,605 74.5,625 75,595 76,615 76.5,590 77,625 77.5,598 78,612 79,580 79.5,610 80,570 81,600 81.5,560 82,590 83,545 83.5,575 84,530 85,560 85.5,520 86,545 87,510 87.5,530 88,505 89,520 89.5,490 90,510 90.5,484 91,500 91.5,483 92,505 92.5,490 93,520 93.5,510 94,540 94.5,530 95,560 95.5,550 96,580 96.5,570 97,590 97.5,575 98,600 98.5,585 99,605 99.5,590 100,600 100.5,585 101,605 101.5,590 102,600 103,590 103.5,605 104,595 105,607 105.5,592 106,605 107,597 108,608 109,600 110,606 111,600 112,607 113,602 115,606 120,606 127,607 133,607 138,605 143,604 150,602 155,599 160,596 167,590 175,585 180,583 185,581 190,580 195,580 200,582 204,581 205,577 206,583 210,585 217,590 225,598 233,606 240,612 250,620 254,625 256,630 257,637"/>
</g>
<rect x="43" y="467" width="243" height="194" fill="none" stroke="#222" stroke-width="1"/>
<g stroke-width="2">
<line x1="228" y1="479" x2="250" y2="479" stroke="#ff1a1a"/>
<line x1="228" y1="491" x2="250" y2="491" stroke="#ff7a1a"/>
<line x1="228" y1="503" x2="250" y2="503" stroke="#1e8ff5"/>
<line x1="228" y1="516" x2="250" y2="516" stroke="#5b1cf5"/>
<line x1="228" y1="529" x2="250" y2="529" stroke="#a21cf0"/>
</g>
<g font-size="12" fill="#222">
<text x="253" y="483">100 K</text><text x="253" y="495">150 K</text><text x="253" y="507">200 K</text><text x="253" y="520">250 K</text><text x="253" y="533">300 K</text>
</g>
<text x="106" y="534" font-size="14" font-weight="bold" fill="#ee1111" textLength="47" lengthAdjust="spacingAndGlyphs">965 nm</text>
<g font-size="13.5" fill="#222" text-anchor="middle">
<text x="61" y="676">600</text><text x="99" y="676">800</text><text x="137" y="676">1000</text><text x="174" y="676">1200</text><text x="212" y="676">1400</text><text x="249" y="676">1600</text><text x="286" y="676">1800</text>
</g>
<text x="166" y="694" font-size="17" fill="#222" text-anchor="middle" textLength="128" lengthAdjust="spacingAndGlyphs">Wavelength (nm)</text>
<text x="29" y="562" font-size="16.5" fill="#222" text-anchor="middle" transform="rotate(-90 29 562)" textLength="170" lengthAdjust="spacingAndGlyphs">PL intensity (arb. units)</text>

<!-- ================= PANEL E ================= -->
<text class="lbl" x="296" y="473">e</text>
<line x1="452" y1="488" x2="452" y2="662" stroke="#a0a8b8" stroke-width="1" stroke-dasharray="3,2"/>
<ellipse cx="452" cy="478" rx="54" ry="6.5" fill="#f4a8a8" opacity="0.85"/>
<path d="M337,490 C355,490 365,491 380,497 C400,506 420,523 440,527 C448,528 456,528 465,525 C480,520 495,508 510,500 C525,493 540,489 553,487" fill="none" stroke="#ee1c1c" stroke-width="2"/>
<path d="M337,492 C350,492 358,492 363,488 C368,483 372,481 378,485 C390,492 400,510 415,530 C428,548 440,562 452,563 C465,563 472,552 482,538 C490,525 497,510 505,506 C512,503 518,507 523,510" fill="none" stroke="#4a78d0" stroke-width="2"/>
<path d="M337,628 C350,620 362,612 373,612 C385,612 395,618 410,628 C425,640 440,655 452,657 C462,658 470,650 482,647 C495,643 505,645 515,648 C530,653 540,656 553,657" fill="none" stroke="#4a78d0" stroke-width="2"/>
<path d="M337,652 C355,650 370,645 385,641 C405,635 425,627 440,625 C450,624 456,625 462,628 C475,635 485,645 500,652 C515,658 530,660 553,658" fill="none" stroke="#ee1c1c" stroke-width="2"/>
<line x1="452" y1="620" x2="452" y2="572" stroke="url(#rb)" stroke-width="2.5" stroke-dasharray="5,3"/>
<path d="M452,565 L447.5,573 L456.5,573 Z" fill="#f07a20"/>
<g transform="translate(393,573) rotate(22)">
<path d="M0,0 c1,-3 3,-3 4,0 l2,-3 l3,6 l3,-6 l3,6 l3,-6 l3,6 l3,-6 l3,6 l3,-6 l3,6 l3,-6 l2,3 l4,0" fill="none" stroke="url(#wv)" stroke-width="1.6"/>
<path d="M44,0 L38,-3.5 L38,3.5 Z" fill="#f07020"/>
</g>
<line x1="447" y1="528" x2="447" y2="545" stroke="#8a2be2" stroke-width="1.5" stroke-dasharray="3,2" marker-end="url(#ahp)"/>
<path d="M476,484 C494,496 488,522 465,545" fill="none" stroke="#8a2be2" stroke-width="1.5" stroke-dasharray="4,3" marker-end="url(#ahp)"/>
<g fill="#e2675a" stroke="#c44434" stroke-width="0.8">
<circle cx="420" cy="478" r="6"/><circle cx="436" cy="478" r="6"/><circle cx="452" cy="478" r="6"/><circle cx="469" cy="478" r="6"/>
<circle cx="443" cy="520" r="6"/><circle cx="459" cy="520" r="6"/><circle cx="446" cy="552" r="6"/><circle cx="459" cy="550" r="6"/>
</g>
<g font-size="10" fill="#fbd6cf" text-anchor="middle">
<text x="420" y="481.5">e</text><text x="436" y="481.5">e</text><text x="452" y="481.5">e</text><text x="469" y="481.5">e</text>
<text x="443" y="523.5">e</text><text x="459" y="523.5">e</text><text x="446" y="555.5">e</text><text x="459" y="553.5">e</text>
</g>
<g fill="#a8bff0" stroke="#3a5ad8" stroke-width="0.9">
<circle cx="423" cy="639" r="6"/><circle cx="438" cy="634" r="6"/><circle cx="453" cy="634" r="6"/><circle cx="467" cy="641" r="6"/>
</g>
<g font-size="10" fill="#3a5ad8" text-anchor="middle">
<text x="423" y="642.5">h</text><text x="438" y="637.5">h</text><text x="453" y="637.5">h</text><text x="467" y="644.5">h</text>
</g>
<text x="504" y="483" font-size="15" fill="#222" textLength="63" lengthAdjust="spacingAndGlyphs">hot carrier</text>
<text x="339" y="517" font-size="15" fill="#ee1c1c">MAPbI<tspan dy="3" font-size="10">3</tspan></text>
<text x="342" y="606" font-size="15" fill="#4a78d0">Bi<tspan dy="3" font-size="10">2</tspan><tspan dy="-3">O</tspan><tspan dy="3" font-size="10">2</tspan><tspan dy="-3">Se</tspan></text>
<text x="550" y="508" font-size="12.5" fill="#222" textLength="56" lengthAdjust="spacingAndGlyphs">conduction</text>
<text x="550" y="522" font-size="12.5" fill="#222" textLength="76" lengthAdjust="spacingAndGlyphs">band minimum</text>
<text x="557" y="656" font-size="12.5" fill="#222" textLength="40" lengthAdjust="spacingAndGlyphs">valance</text>
<text x="557" y="670" font-size="12.5" fill="#222" textLength="80" lengthAdjust="spacingAndGlyphs">band maximum</text>
<text x="452" y="687" font-size="22" fill="#111" text-anchor="middle">Γ</text>
</svg>
</body></html>
